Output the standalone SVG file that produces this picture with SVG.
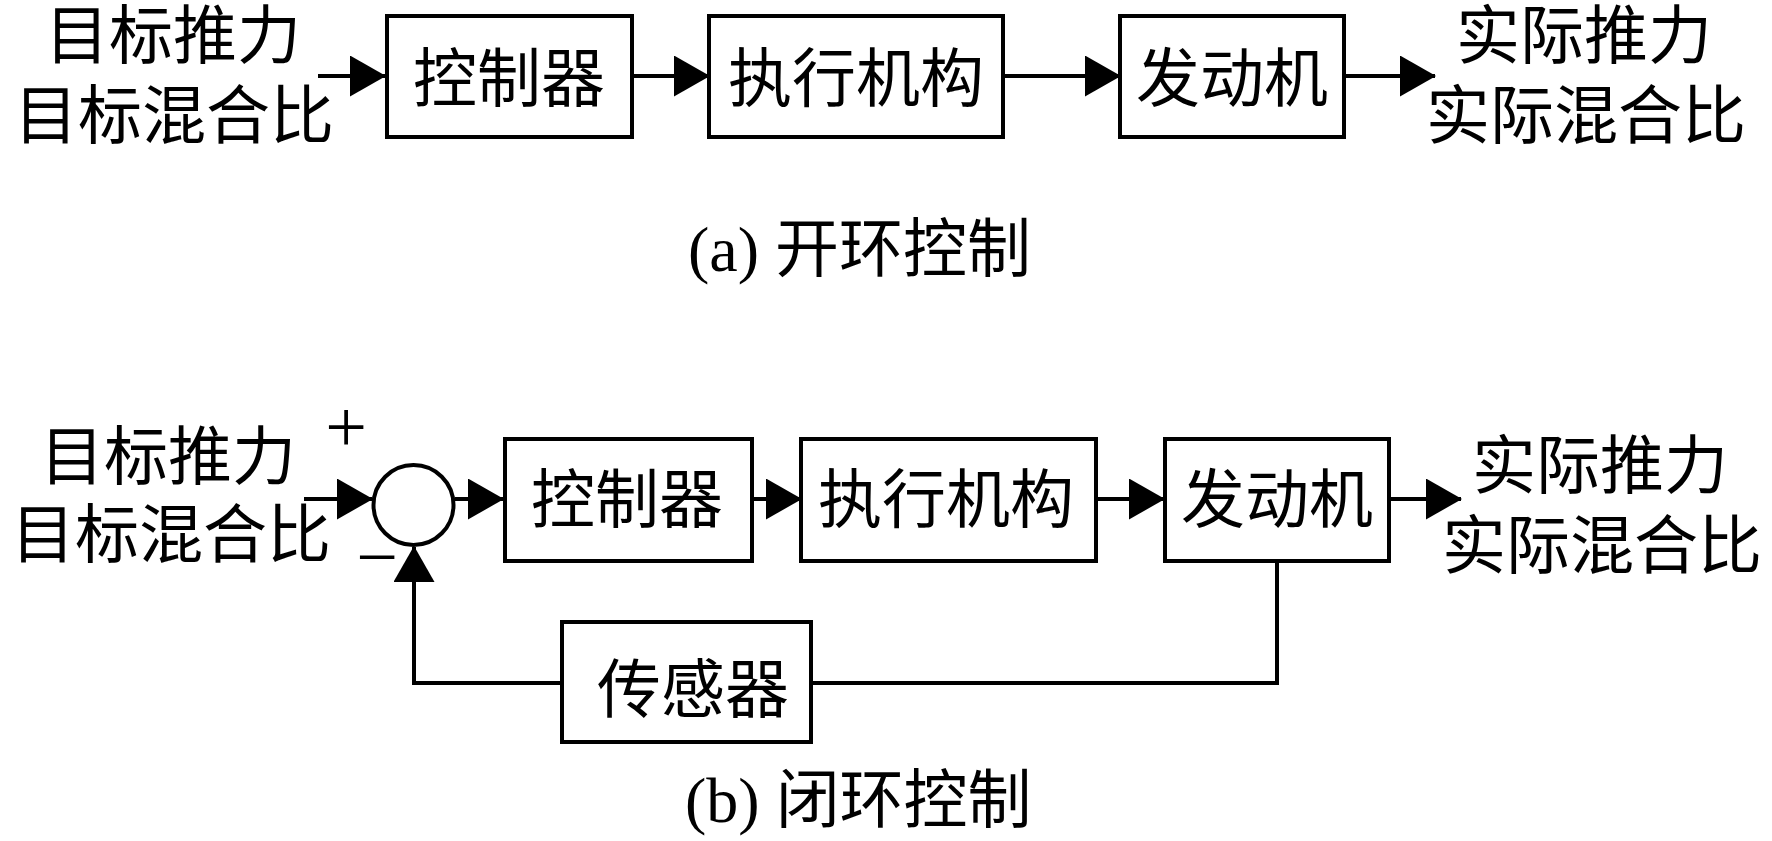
<svg xmlns="http://www.w3.org/2000/svg" width="1772" height="841" viewBox="0 0 1772 841">
<style>
.box{fill:#fff;stroke:#000;stroke-width:4}
.ln{fill:none;stroke:#000;stroke-width:4}
.t{font-family:"Liberation Serif","Noto Sans CJK SC",serif;font-size:64px;fill:#000}
.m{text-anchor:middle}
.sg{font-family:"Liberation Serif",serif;font-size:74px;fill:#000;text-anchor:middle}
</style>
<defs>
<marker id="ah" markerUnits="userSpaceOnUse" markerWidth="37" markerHeight="42" refX="35" refY="20.5" orient="auto">
<path d="M0,0 L36,20.5 L0,41 Z" fill="#000"/>
</marker>
</defs>
<rect width="1772" height="841" fill="#fff"/>

<g id="connectors">
<line class="ln" x1="318" y1="76" x2="385" y2="76" marker-end="url(#ah)"/>
<line class="ln" x1="632" y1="76" x2="709" y2="76" marker-end="url(#ah)"/>
<line class="ln" x1="1003" y1="76" x2="1120" y2="76" marker-end="url(#ah)"/>
<line class="ln" x1="1344" y1="76" x2="1435" y2="76" marker-end="url(#ah)"/>
<line class="ln" x1="304" y1="499" x2="372" y2="499" marker-end="url(#ah)"/>
<line class="ln" x1="455" y1="499" x2="503" y2="499" marker-end="url(#ah)"/>
<line class="ln" x1="752" y1="499" x2="801" y2="499" marker-end="url(#ah)"/>
<line class="ln" x1="1096" y1="499" x2="1164" y2="499" marker-end="url(#ah)"/>
<line class="ln" x1="1389" y1="499" x2="1461" y2="499" marker-end="url(#ah)"/>
<polyline class="ln" points="1277,562 1277,683 811,683"/>
<polyline class="ln" points="562,683 414,683 414,547" marker-end="url(#ah)"/>
</g>

<g id="input-a">
<text class="t m" x="173" y="58">目标推力</text>
<text class="t m" x="174" y="138">目标混合比</text>
</g>
<g id="controller-a">
<rect class="box" x="387" y="16" width="245" height="121"/>
<text class="t m" x="509" y="101">控制器</text>
</g>
<g id="actuator-a">
<rect class="box" x="709" y="16" width="294" height="121"/>
<text class="t m" x="856" y="101">执行机构</text>
</g>
<g id="engine-a">
<rect class="box" x="1120" y="16" width="224" height="121"/>
<text class="t m" x="1232" y="101">发动机</text>
</g>
<g id="output-a">
<text class="t m" x="1584" y="58">实际推力</text>
<text class="t m" x="1586" y="138">实际混合比</text>
</g>
<g id="caption-a">
<text class="t" x="688" y="271">(a) 开环控制</text>
</g>

<g id="input-b">
<text class="t m" x="168" y="479">目标推力</text>
<text class="t m" x="171" y="557">目标混合比</text>
</g>
<g id="sum">
<circle cx="413.5" cy="505" r="40" fill="#fff" stroke="#000" stroke-width="4"/>
<text class="sg" x="346" y="452">+</text>
<text class="sg" x="377" y="582">−</text>
</g>
<g id="controller-b">
<rect class="box" x="505" y="439" width="247" height="122"/>
<text class="t m" x="627" y="522">控制器</text>
</g>
<g id="actuator-b">
<rect class="box" x="801" y="439" width="295" height="122"/>
<text class="t m" x="946" y="522">执行机构</text>
</g>
<g id="engine-b">
<rect class="box" x="1165" y="439" width="224" height="122"/>
<text class="t m" x="1277" y="522">发动机</text>
</g>
<g id="sensor">
<rect class="box" x="562" y="622" width="249" height="120"/>
<text class="t m" x="693" y="712">传感器</text>
</g>
<g id="output-b">
<text class="t m" x="1600" y="488">实际推力</text>
<text class="t m" x="1602" y="568">实际混合比</text>
</g>
<g id="caption-b">
<text class="t" x="685" y="822">(b) 闭环控制</text>
</g>
</svg>
